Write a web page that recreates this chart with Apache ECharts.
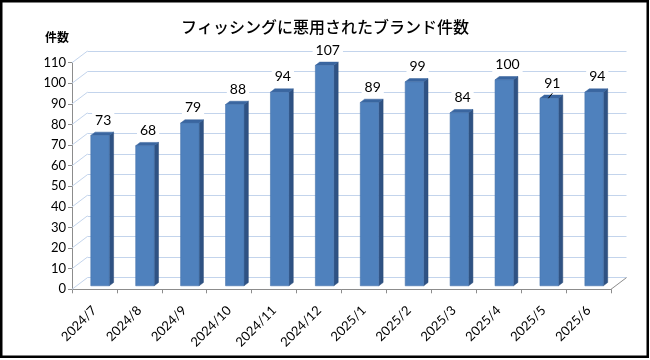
<!DOCTYPE html>
<html>
<head>
<meta charset="utf-8">
<script src="https://cdn.jsdelivr.net/npm/echarts@6/dist/echarts.min.js"></script>
<style>html,body{margin:0;padding:0;background:#fff}#c{width:650px;height:360px}</style>
</head>
<body>
<div id="c"></div>
<script>
// ---- data ----
const titleText = 'フィッシングに悪用されたブランド件数';
const yName = '件数';
const categories = ['2024/7','2024/8','2024/9','2024/10','2024/11','2024/12','2025/1','2025/2','2025/3','2025/4','2025/5','2025/6'];
const values = [73, 68, 79, 88, 94, 107, 89, 99, 84, 100, 91, 94];
const yTicks = [0, 10, 20, 30, 40, 50, 60, 70, 80, 90, 100, 110];
const leaderCats = ['2025/5'];

// ---- style ----
const DX = 15.5, DY = -11.7;          // back-wall offset of the 3D box
const F1 = 0.3, FD = 0.28;            // bar front depth / bar depth (fractions)
const GRID = {left: 72, right: 39, top: 62.7, bottom: 70.7};
const numFont = 'Lato';
const wallColor = '#c3d4ec';
const axisColor = '#8c8c8c';

const chart = echarts.init(document.getElementById('c'), null, {renderer: 'canvas'});

const barData = values.map((v, i) => [i, v]);
const tickData = yTicks.map(v => [0, v]);

function renderBar(params, api) {
  const idx = api.value(0), val = api.value(1);
  const c = api.coord([idx, val]);
  const b = api.coord([idx, 0]);
  const band = api.size([1, 0])[0];
  const sx = F1 * DX, sy = F1 * DY;
  const fl = c[0] - band * 0.185 + sx;
  const fr = c[0] + band * 0.226 + sx;
  const yt = c[1] + sy, yb = b[1] + sy;
  const ddx = FD * DX, ddy = FD * DY;
  const children = [
    {type: 'polygon', shape: {points: [[fr, yt], [fr + ddx, yt + ddy], [fr + ddx, yb + ddy], [fr, yb]]},
     style: {fill: '#2f5283', stroke: '#2a4a77', lineWidth: 0.5}},
    {type: 'polygon', shape: {points: [[fl, yt], [fl + ddx, yt + ddy], [fr + ddx, yt + ddy], [fr, yt]]},
     style: {fill: '#3a66a0', stroke: '#35609a', lineWidth: 0.5}},
    {type: 'rect', shape: {x: fl, y: yt, width: fr - fl, height: yb - yt},
     style: {fill: '#4f81bd', stroke: '#4674ad', lineWidth: 0.6}}
  ];
  const cx = (fl + fr + ddx) / 2;
  const topTop = yt + ddy;
  children.push({
    type: 'text', z2: 10,
    style: {text: String(val), x: cx + 1, y: topTop - 12, align: 'center', verticalAlign: 'middle',
            font: '14px ' + numFont, fill: '#000', backgroundColor: '#fff', padding: [1, 3]}
  });
  if (leaderCats.indexOf(categories[idx]) >= 0) {
    children.push({type: 'line', shape: {x1: cx - 3, y1: topTop + 3.2, x2: cx + 1, y2: topTop - 1.8},
                   style: {stroke: '#000', lineWidth: 1}});
  }
  return {type: 'group', children: children};
}

function renderWall(params, api) {
  const v = api.value(1);
  const cs = params.coordSys;
  const y = api.coord([0, v])[1];
  const children = [
    {type: 'line', shape: {x1: cs.x, y1: y, x2: cs.x + DX, y2: y + DY}, style: {stroke: wallColor, lineWidth: 1}}
  ];
  if (v === yTicks[0]) {
    const xr = cs.x + cs.width;
    children.push({type: 'line', shape: {x1: xr, y1: y, x2: xr + DX, y2: y + DY}, style: {stroke: axisColor, lineWidth: 1}});
  }
  return {type: 'group', children: children};
}

const option = {
  animation: false,
  backgroundColor: '#fff',
  title: {
    text: titleText, left: 'center', top: 14,
    textStyle: {fontFamily: 'Noto Sans CJK JP', fontSize: 16, fontWeight: 500, color: '#000'}
  },
  graphic: [
    {type: 'text', left: 45, top: 31,
     style: {text: yName, font: 'bold 12px "Noto Sans CJK JP"', fill: '#000'}},
    {type: 'rect', shape: {x: 1.25, y: 1.25, width: 646.5, height: 355.5},
     style: {fill: 'none', stroke: '#000', lineWidth: 2.5}, silent: true, z: 100}
  ],
  grid: [
    {left: GRID.left, right: GRID.right, top: GRID.top, bottom: GRID.bottom},
    {left: GRID.left + DX, right: GRID.right - DX, top: GRID.top + DY, bottom: GRID.bottom - DY}
  ],
  xAxis: [
    {type: 'category', gridIndex: 0, data: categories, boundaryGap: true,
     axisLine: {lineStyle: {color: axisColor, width: 1}},
     axisTick: {show: true, interval: 0, length: 4, lineStyle: {color: axisColor}},
     axisLabel: {interval: 0, rotate: 45, margin: 19, fontFamily: numFont, fontSize: 13, color: '#000'},
     splitLine: {show: false}},
    {type: 'category', gridIndex: 1, data: categories, show: false}
  ],
  yAxis: [
    {type: 'value', gridIndex: 0, min: 0, max: 110, interval: 10,
     axisLine: {show: true, lineStyle: {color: axisColor, width: 1}},
     axisTick: {show: true, length: 4, lineStyle: {color: axisColor}},
     axisLabel: {margin: 6, fontFamily: numFont, fontSize: 13, color: '#000'},
     splitLine: {show: false}},
    {type: 'value', gridIndex: 1, min: 0, max: 110, interval: 10,
     axisLine: {show: false}, axisTick: {show: false}, axisLabel: {show: false},
     splitLine: {show: true, lineStyle: {color: wallColor, width: 1}}}
  ],
  series: [
    {type: 'custom', name: 'wall', xAxisIndex: 0, yAxisIndex: 0, data: tickData,
     encode: {x: 0, y: 1}, renderItem: renderWall, silent: true, z: 1, clip: false},
    {type: 'custom', name: '件数', xAxisIndex: 0, yAxisIndex: 0, data: barData,
     encode: {x: 0, y: 1}, renderItem: renderBar, z: 3, clip: false}
  ]
};
chart.setOption(option);
</script>
</body>
</html>
